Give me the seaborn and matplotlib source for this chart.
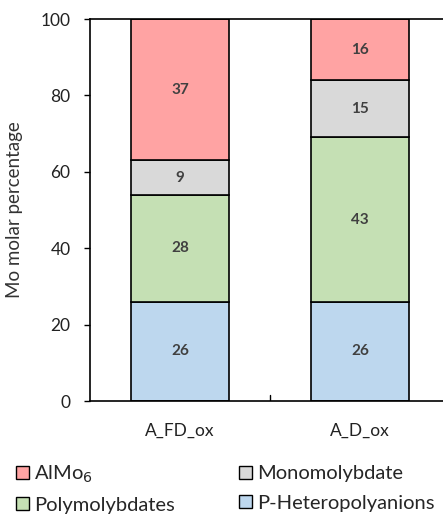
import matplotlib
matplotlib.use('Agg')
import matplotlib.pyplot as plt
import seaborn as sns
import numpy as np
import pandas as pd
from matplotlib.patches import Patch

samples = ["A_FD_ox", "A_D_ox"]
hetero = [26, 26]
poly = [28, 43]
mono = [9, 15]
almo6 = [37, 16]

series = [
    ("P-Heteropolyanions", hetero, "#BDD7EE"),
    ("Polymolybdates", poly, "#C5E0B4"),
    ("Monomolybdate", mono, "#D9D9D9"),
    ("AlMo$_6$", almo6, "#FFA3A3"),
]

sns.set_style("white")
plt.rcParams['font.family'] = ['Lato', 'DejaVu Sans']

fig = plt.figure(figsize=(4.43, 5.16), dpi=100)
ax = fig.add_axes([90 / 443, 1 - 401 / 516, 360 / 443, 382 / 516])

bottom = np.zeros(len(samples))
for name, vals, color in series:
    df = pd.DataFrame({"sample": samples, "value": vals})
    sns.barplot(data=df, x="sample", y="value", color=color, bottom=bottom,
                width=0.545, edgecolor="black", linewidth=1.2, ax=ax,
                saturation=1)
    for i, v in enumerate(vals):
        ax.text(i, bottom[i] + v / 2, str(v), ha="center", va="center",
                fontsize=11, fontweight="bold", color="#404040")
    bottom += np.array(vals)

ax.set_xlim(-0.5, 1.5)
ax.set_ylim(0, 100)
ax.set_yticks([0, 20, 40, 60, 80, 100])
ax.set_xlabel("")
ax.set_ylabel("Mo molar percentage", fontsize=13.5, color="#333333")
ax.yaxis.set_label_coords(-0.185, 0.5)
ax.tick_params(axis="y", direction="out", length=4, width=1, labelsize=12.5,
               colors="black", left=True, labelcolor="#222222", pad=10)
ax.tick_params(axis="x", bottom=False, labelsize=12.5, pad=12,
               labelcolor="#222222")
ax.set_xticks([0, 1])
ax.set_xticklabels(samples)
ax.plot([0.5, 0.5], [0, 1.5], color="black", lw=1)

for s in ax.spines.values():
    s.set_color("black")
    s.set_linewidth(1.2)

order = [3, 1, 2, 0]
handles = [Patch(facecolor=series[k][2], edgecolor="black", linewidth=1)
           for k in order]
labels = [series[k][0] for k in order]
fig.legend(handles, labels, ncol=2, loc="upper left",
           bbox_to_anchor=(-0.005, 0.137), frameon=False, fontsize=14.5,
           handlelength=0.65, handleheight=0.65, handletextpad=0.25,
           columnspacing=3.2, labelspacing=0.6)

plt.savefig("out.png", dpi=100)
plt.close()
